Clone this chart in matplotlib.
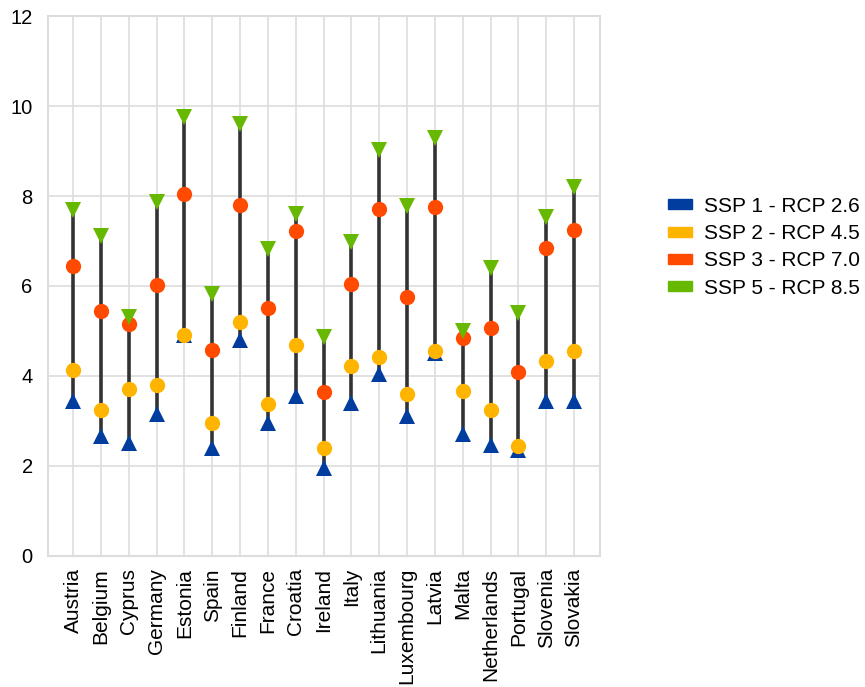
import numpy as np
import matplotlib.pyplot as plt
from matplotlib.patches import Patch

plt.rcParams['font.family'] = ['Liberation Sans', 'DejaVu Sans']

countries = ['Austria', 'Belgium', 'Cyprus', 'Germany', 'Estonia', 'Spain', 'Finland',
             'France', 'Croatia', 'Ireland', 'Italy', 'Lithuania', 'Luxembourg', 'Latvia',
             'Malta', 'Netherlands', 'Portugal', 'Slovenia', 'Slovakia']

ssp1 = [3.43, 2.65, 2.5, 3.15, 4.9, 2.4, 4.8, 2.95, 3.55, 1.95, 3.4, 4.05, 3.1, 4.5,
        2.7, 2.45, 2.35, 3.45, 3.45]
ssp2 = [4.12, 3.25, 3.7, 3.8, 4.92, 2.95, 5.2, 3.37, 4.68, 2.4, 4.22, 4.43, 3.6, 4.56,
        3.67, 3.25, 2.44, 4.32, 4.55]
ssp3 = [6.45, 5.45, 5.15, 6.03, 8.05, 4.57, 7.8, 5.5, 7.22, 3.63, 6.05, 7.72, 5.75, 7.75,
        4.85, 5.07, 4.08, 6.85, 7.24]
ssp5 = [7.7, 7.12, 5.32, 7.87, 9.77, 5.83, 9.6, 6.83, 7.6, 4.87, 6.97, 9.02, 7.77, 9.3,
        5.0, 6.4, 5.4, 7.53, 8.2]

labels = ['SSP 1 - RCP 2.6', 'SSP 2 - RCP 4.5', 'SSP 3 - RCP 7.0', 'SSP 5 - RCP 8.5']
colors = ['#003d9e', '#ffb400', '#ff4a00', '#66b800']

x = np.arange(len(countries))
allv = np.array([ssp1, ssp2, ssp3, ssp5])

fig = plt.figure(figsize=(8.65, 6.87), dpi=100)
ax = fig.add_axes([0.0555, 0.1914, 0.638, 0.7846])

ax.vlines(x, allv.min(axis=0), allv.max(axis=0), color='#333333', lw=2.6, zorder=2)
ax.plot(x, ssp1, ls='none', marker='^', ms=11.5, color=colors[0], mew=0, zorder=3)
ax.plot(x, ssp2, ls='none', marker='o', ms=11, color=colors[1], mew=0, zorder=3)
ax.plot(x, ssp3, ls='none', marker='o', ms=11, color=colors[2], mew=0, zorder=3)
ax.plot(x, ssp5, ls='none', marker='v', ms=11.5, color=colors[3], mew=0, zorder=4)

ax.set_xlim(-0.9, 18.93)
ax.set_ylim(0, 12)
ax.set_yticks(np.arange(0, 13, 2))
ax.set_xticks(x)
ax.set_xticklabels(countries, rotation=90, fontsize=15)
ax.tick_params(axis='y', labelsize=14.5, length=0, pad=11)
ax.tick_params(axis='x', length=0, pad=9)
ax.grid(True, color='#dddddd', lw=1.2)
ax.set_axisbelow(True)
for s in ax.spines.values():
    s.set_color('#dddddd')
    s.set_linewidth(1.5)

handles = [Patch(color=c, label=l) for c, l in zip(colors, labels)]
fig.legend(handles=handles, loc='center left', bbox_to_anchor=(0.772, 0.640),
           frameon=False, fontsize=15, handlelength=1.15, handleheight=0.38,
           handletextpad=0.58, labelspacing=0.40, borderpad=0, borderaxespad=0)

fig.savefig('out.png', dpi=100)
